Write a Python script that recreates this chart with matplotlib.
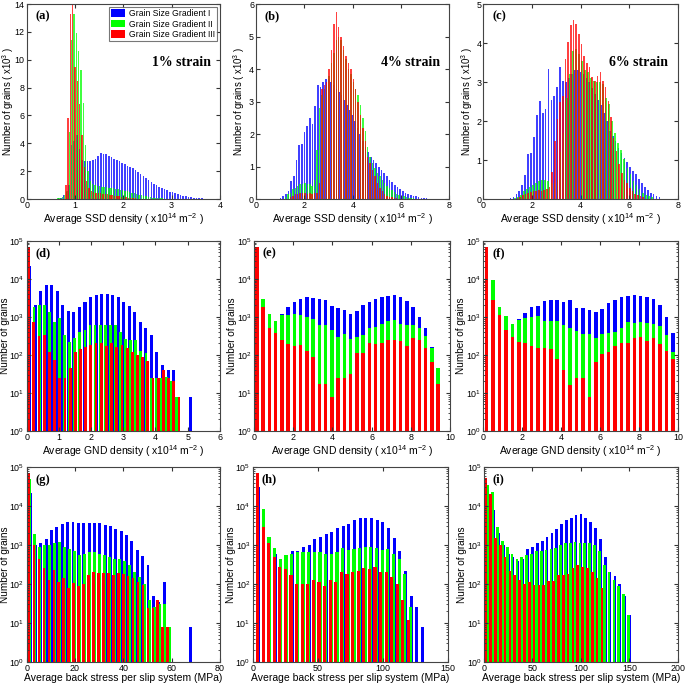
import numpy as np
import matplotlib
matplotlib.use('Agg')
import matplotlib.pyplot as plt
from matplotlib.patches import Patch

plt.rcParams['font.family'] = ['Liberation Sans', 'DejaVu Sans']
plt.rcParams['mathtext.fontset'] = 'custom'
plt.rcParams['mathtext.rm'] = 'Liberation Sans'
plt.rcParams['mathtext.it'] = 'Liberation Sans:italic'
plt.rcParams['mathtext.bf'] = 'Liberation Sans:bold'

BLUE, GREEN, RED = '#0000ff', '#00ff00', '#ff0000'
series_names = ['Grain Size Gradient I', 'Grain Size Gradient II', 'Grain Size Gradient III']

# ---- data: (first bin centre, bin width) and counts per series ----
# (a) SSD density, 1% strain (counts in 1e3)
a_blue_bins = (0.60, 0.055)
a_blue = [0.02, 0.05, 0.1, 0.3, 0.5, 1.0, 3.9, 4.2, 4.6, 3.6, 2.8, 2.7, 2.7, 2.7, 2.8, 2.9, 3.1, 3.3, 3.2, 3.2,
          3.1, 3.0, 2.9, 2.8, 2.7, 2.6, 2.5, 2.4, 2.3, 2.2, 2.1, 1.95, 1.8, 1.65, 1.5, 1.35, 1.2, 1.1, 1.0, 0.9,
          0.8, 0.7, 0.62, 0.54, 0.47, 0.4, 0.34, 0.28, 0.24, 0.2, 0.16, 0.13, 0.1, 0.08, 0.06, 0.04, 0.03, 0.02]
a_green_bins = (0.50, 0.048)
a_green = [0.01, 0.02, 0.03, 0.05, 0.08, 0.12, 0.3, 0.6, 4.8, 11.4, 13.3, 11.9, 10.6, 9.3, 6.9, 3.9, 2.0, 1.3,
           1.1, 1.0, 0.95, 0.92, 0.9, 0.88, 0.85, 0.82, 0.8, 0.78, 0.75, 0.72, 0.68, 0.64, 0.6, 0.55, 0.5, 0.45,
           0.4, 0.35, 0.3, 0.26, 0.22, 0.19, 0.16, 0.13, 0.1, 0.08, 0.06, 0.05, 0.04, 0.03, 0.02, 0.02, 0.01, 0.01]
a_red_bins = (0.81, 0.048)
a_red = [1.0, 5.8, 13.3, 14.0, 9.5, 8.5, 6.8, 4.6, 2.3, 1.3, 0.8, 0.6, 0.5, 0.45, 0.42, 0.4, 0.38, 0.35, 0.33,
         0.3, 0.28, 0.25, 0.22, 0.2, 0.17, 0.15, 0.12, 0.1, 0.08, 0.06, 0.04, 0.03, 0.02]

# (b) SSD density, 4% strain
b_blue_bins = (0.90, 0.11)
b_blue = [0.01, 0.03, 0.08, 0.15, 0.25, 0.55, 0.7, 1.2, 1.65, 1.7, 2.05, 2.25, 2.5, 2.3, 2.85, 3.5, 3.45, 3.6,
          3.7, 3.7, 3.6, 3.5, 3.4, 3.3, 3.2, 3.05, 2.9, 2.75, 2.6, 2.4, 2.2, 2.0, 1.8, 1.6, 1.45, 1.3, 1.2, 1.1,
          1.0, 0.9, 0.8, 0.7, 0.6, 0.52, 0.44, 0.37, 0.3, 0.25, 0.2, 0.16, 0.12, 0.1, 0.08, 0.06, 0.04, 0.03,
          0.02, 0.01, 0.01]
b_green_bins = (1.22, 0.10)
b_green = [0.05, 0.15, 0.2, 0.3, 0.35, 0.4, 0.45, 0.45, 0.5, 0.45, 0.45, 0.4, 0.6, 1.5, 2.8, 3.2, 3.4, 3.5, 3.8,
           4.2, 4.5, 4.9, 5.0, 4.9, 4.6, 4.3, 4.0, 3.85, 3.6, 3.4, 3.2, 2.9, 2.5, 2.1, 1.6, 1.3, 1.1, 0.95, 0.8,
           0.7, 0.6, 0.5, 0.4, 0.33, 0.27, 0.22, 0.17, 0.13, 0.1, 0.08, 0.06, 0.04, 0.03, 0.02, 0.01]
b_red_bins = (1.42, 0.10)
b_red = [0.05, 0.1, 0.15, 0.15, 0.2, 0.2, 0.2, 0.15, 0.2, 0.15, 0.2, 0.2, 0.5, 3.4, 3.5, 3.6, 4.0, 4.6, 5.4, 5.75,
         5.3, 5.0, 4.7, 4.4, 4.2, 4.0, 3.7, 3.4, 3.0, 2.6, 2.2, 1.8, 1.3, 1.1, 0.9, 0.7, 0.5, 0.35, 0.25, 0.15,
         0.1, 0.07, 0.05, 0.03, 0.02, 0.01]

# (c) SSD density, 6% strain
c_blue_bins = (1.12, 0.12)
c_blue = [0.02, 0.06, 0.12, 0.2, 0.37, 0.61, 1.15, 1.18, 1.58, 2.15, 2.52, 2.2, 2.3, 3.34, 2.55, 2.65, 2.88, 3.38,
          3.04, 3.0, 3.1, 3.2, 3.3, 3.3, 3.25, 3.2, 3.1, 3.0, 2.85, 2.7, 2.55, 2.4, 2.2, 2.0, 1.75, 1.62, 1.48,
          1.32, 1.19, 1.05, 0.95, 0.82, 0.72, 0.63, 0.52, 0.41, 0.3, 0.22, 0.16, 0.12, 0.09, 0.05]
c_green_bins = (1.30, 0.125)
c_green = [0.02, 0.05, 0.1, 0.2, 0.25, 0.3, 0.35, 0.4, 0.45, 0.5, 0.48, 0.45, 0.42, 0.4, 0.5, 1.2, 1.7, 2.6, 3.2,
           3.8, 3.86, 3.73, 3.55, 3.3, 3.25, 3.1, 3.04, 3.0, 3.0, 2.95, 2.6, 2.43, 2.0, 1.7, 1.45, 1.25, 1.02, 0.8,
           0.63, 0.45, 0.35, 0.25, 0.16, 0.11, 0.07, 0.04]
c_red_bins = (1.40, 0.11)
c_red = [0.03, 0.06, 0.1, 0.12, 0.15, 0.18, 0.2, 0.2, 0.22, 0.2, 0.22, 0.25, 0.3, 0.7, 1.5, 2.05, 2.5, 2.65, 3.6,
         4.03, 4.46, 4.6, 4.5, 4.24, 3.98, 3.68, 3.5, 3.38, 3.12, 3.03, 3.15, 3.25, 3.03, 2.87, 2.52, 2.1, 1.57,
         1.23, 0.89, 0.67, 0.5, 0.41, 0.28, 0.2, 0.14, 0.1, 0.07, 0.04]

# (d) GND density, 1% strain
d_blue_bins = (0.09, 0.172)
d_blue = [2.2e4, 2000, 4800, 6900, 6900, 4800, 2000, 1400, 1300, 1800, 2500, 3400, 3700, 4100, 4000, 3700, 3400,
          2500, 1900, 1300, 750, 500, 330, 120, 54, 40, 40, 0, 0, 8]
d_green_bins = (0.07, 0.158)
d_green = [4e4, 1800, 2100, 2000, 1300, 750, 950, 330, 220, 270, 400, 450, 600, 620, 620, 620, 620, 620, 400, 260,
           250, 250, 125, 110, 24, 24, 24, 26, 20, 8]
d_red_bins = (0.06, 0.161)
d_red = [7e4, 750, 320, 330, 120, 75, 25, 25, 45, 120, 140, 160, 180, 200, 200, 170, 200, 160, 180, 150, 120, 100,
         90, 70, 24, 24, 40, 24, 20, 8]

# (e) GND density, 4% strain
e_blue_bins = (0.14, 0.319)
e_blue = [5e4, 2500, 1000, 800, 1200, 1800, 2400, 3000, 3300, 3200, 2900, 2700, 1900, 1700, 1500, 1200, 1400,
          2000, 2500, 3000, 3400, 3600, 3700, 3300, 2600, 1800, 1000, 500, 160, 0]
e_green_bins = (0.14, 0.319)
e_green = [5e4, 3000, 1200, 800, 1100, 1150, 1200, 1100, 1000, 900, 600, 600, 450, 300, 350, 260, 300, 330, 500,
           550, 650, 800, 850, 650, 600, 600, 500, 320, 150, 45]
e_red_bins = (0.14, 0.319)
e_red = [7e4, 1800, 520, 370, 240, 190, 170, 180, 130, 90, 17, 17, 8, 25, 25, 32, 115, 110, 210, 190, 200, 250,
         250, 230, 170, 280, 240, 155, 65, 17]

# (f) GND density, 6% strain
f_blue_bins = (0.17, 0.33)
f_blue = [3e4, 5000, 1500, 900, 600, 900, 1250, 1800, 1900, 2600, 2700, 2800, 2500, 2700, 1700, 1700, 1500, 1300,
          1600, 2300, 2800, 3300, 3600, 3800, 3600, 3300, 2900, 2000, 1000, 380]
f_green_bins = (0.17, 0.33)
f_green = [5e4, 9500, 1800, 1050, 650, 850, 950, 1000, 1050, 800, 780, 780, 600, 500, 420, 350, 350, 270, 350, 380,
           400, 500, 750, 700, 750, 700, 650, 560, 330, 120]
f_red_bins = (0.17, 0.33)
f_red = [7e4, 2700, 1100, 450, 290, 220, 210, 175, 155, 155, 140, 80, 40, 16, 24, 24, 8, 65, 105, 120, 175, 210,
         200, 280, 290, 230, 270, 190, 130, 80]

# (g) back stress, 1% strain
g_blue_bins = (1.4, 2.22)
g_blue = [2.1e4, 1000, 1100, 1400, 2400, 2900, 3400, 4000, 3800, 3700, 3700, 3700, 3700, 3600, 3300, 3000, 2600,
          2300, 1800, 1250, 760, 530, 310, 50, 35, 110, 0, 0, 0, 0, 8]
g_green_bins = (1.2, 2.07)
g_green = [5e4, 1900, 900, 1000, 1000, 1100, 1200, 900, 800, 700, 550, 600, 650, 650, 600, 550, 500, 450, 450, 400,
           300, 200, 150, 100, 40, 25, 30, 30, 8]
g_red_bins = (1.0, 2.05)
g_red = [7e4, 1000, 450, 260, 130, 230, 110, 140, 80, 105, 90, 100, 170, 200, 190, 190, 190, 170, 190, 185, 160,
         140, 115, 95, 24, 24, 40, 8, 8]

# (h) back stress, 4% strain
h_blue_bins = (4.2, 4.35)
h_blue = [3e4, 2500, 1200, 600, 400, 500, 700, 700, 900, 1000, 1400, 1600, 1900, 2200, 2700, 3000, 3500, 4300, 4800,
          4900, 4800, 4400, 3800, 2700, 1500, 700, 220, 50, 25, 8]
h_green_bins = (3.8, 4.35)
h_green = [5e4, 8500, 1600, 850, 450, 550, 600, 650, 650, 650, 650, 650, 600, 600, 650, 850, 750, 800, 850, 900, 900,
           850, 750, 800, 600, 450, 180, 25]
h_red_bins = (3.6, 4.3)
h_red = [7e4, 2900, 1100, 500, 280, 240, 170, 100, 100, 100, 130, 110, 90, 130, 110, 200, 180, 200, 220, 250, 240,
         280, 200, 200, 150, 100, 40, 12]

# (i) back stress, 6% strain
i_blue_bins = (5.0, 5.0)
i_blue = [2e4, 8000, 2000, 1000, 600, 500, 400, 430, 800, 900, 1100, 1300, 1600, 2000, 2600, 3500, 4500, 5000, 6000,
          6200, 5000, 4000, 2800, 1400, 500, 200, 160, 100, 50, 16]
i_green_bins = (4.0, 5.0)
i_green = [3.5e4, 2.3e4, 2900, 1300, 900, 600, 450, 500, 550, 600, 700, 700, 750, 800, 850, 1000, 1100, 1150, 1200,
           1150, 1150, 1100, 1000, 700, 300, 200, 130, 90, 55, 16]
i_red_bins = (1.7, 5.0)
i_red = [5.3e4, 2e4, 1500, 1000, 500, 220, 170, 130, 100, 110, 95, 95, 95, 120, 120, 170, 170, 180, 250, 300, 280,
         250, 200, 140, 80]

panels = [
    ('a', [(a_blue_bins, a_blue), (a_green_bins, a_green), (a_red_bins, a_red)]),
    ('b', [(b_blue_bins, b_blue), (b_green_bins, b_green), (b_red_bins, b_red)]),
    ('c', [(c_blue_bins, c_blue), (c_green_bins, c_green), (c_red_bins, c_red)]),
    ('d', [(d_blue_bins, d_blue), (d_green_bins, d_green), (d_red_bins, d_red)]),
    ('e', [(e_blue_bins, e_blue), (e_green_bins, e_green), (e_red_bins, e_red)]),
    ('f', [(f_blue_bins, f_blue), (f_green_bins, f_green), (f_red_bins, f_red)]),
    ('g', [(g_blue_bins, g_blue), (g_green_bins, g_green), (g_red_bins, g_red)]),
    ('h', [(h_blue_bins, h_blue), (h_green_bins, h_green), (h_red_bins, h_red)]),
    ('i', [(i_blue_bins, i_blue), (i_green_bins, i_green), (i_red_bins, i_red)]),
]

# axes rectangles in figure fraction, and y-label centre (axes fraction)
rects = {
    'a': [0.039, 0.709, 0.282, 0.285], 'b': [0.374, 0.709, 0.282, 0.285], 'c': [0.7056, 0.709, 0.284, 0.285],
    'd': [0.039, 0.370, 0.282, 0.278], 'e': [0.371, 0.370, 0.286, 0.278], 'f': [0.7056, 0.370, 0.284, 0.278],
    'g': [0.039, 0.0322, 0.282, 0.285], 'h': [0.369, 0.0322, 0.285, 0.285], 'i': [0.7066, 0.0322, 0.283, 0.285],
}
ylab_x = {'a': -0.098, 'b': -0.088, 'c': -0.085, 'd': -0.112, 'e': -0.115, 'f': -0.115,
          'g': -0.112, 'h': -0.113, 'i': -0.115}
xlims = {'a': 4, 'b': 8, 'c': 8, 'd': 6, 'e': 10, 'f': 10, 'g': 80, 'h': 150, 'i': 200}
xsteps = {'a': 1, 'b': 2, 'c': 2, 'd': 1, 'e': 2, 'f': 2, 'g': 20, 'h': 50, 'i': 50}
ylims = {'a': (14, 2), 'b': (6, 1), 'c': (5, 1)}
strain = {'a': '1% strain', 'b': '4% strain', 'c': '6% strain'}

ssd_label = 'Average SSD density ( x10$^{14}$ m$^{-2}$ )'
gnd_label = 'Average GND density ( x10$^{14}$ m$^{-2}$ )'
bs_label = 'Average back stress per slip system (MPa)'

fig = plt.figure(figsize=(6.85, 6.84), dpi=100)
colors = [BLUE, GREEN, RED]

for key, ser in panels:
    ax = fig.add_axes(rects[key])
    log = key in 'defghi'
    if log:
        ax.set_yscale('log')
    for (bins, counts), col in zip(ser, colors):
        x0, dx = bins
        cnt = np.array(counts, dtype=float)
        x = x0 + dx * np.arange(len(cnt))
        if log:
            cnt = np.where(cnt > 0, cnt, np.nan)
            ax.bar(x, cnt, width=0.55 * dx, color=col, edgecolor='none', bottom=0)
        else:
            ax.bar(x, cnt, width=0.6 * dx, color=col, edgecolor='none', alpha=0.75)
    ax.set_xlim(0, xlims[key])
    ax.set_xticks(np.arange(0, xlims[key] + 1e-9, xsteps[key]))
    if log:
        ax.set_ylim(1, 1e5)
        ax.set_yticks([1, 10, 100, 1e3, 1e4, 1e5])
        ax.set_ylabel('Number of grains', fontsize=7.2)
    else:
        top, st = ylims[key]
        ax.set_ylim(0, top)
        ax.set_yticks(np.arange(0, top + 1e-9, st))
        ax.set_ylabel('Number of grains ( x10$^{3}$ )', fontsize=6.9)
        ax.text(0.80, 0.70, strain[key], transform=ax.transAxes, ha='center', va='center',
                family='Liberation Serif', fontweight='bold', fontsize=10)
    ax.yaxis.label.set_va('center')
    ax.yaxis.set_label_coords(ylab_x[key], 0.5)
    if key in 'abc':
        ax.set_xlabel(ssd_label, fontsize=7.5, labelpad=1)
    elif key in 'def':
        ax.set_xlabel(gnd_label, fontsize=7.5, labelpad=1)
    else:
        ax.set_xlabel(bs_label, fontsize=7.5, labelpad=0)
    ax.tick_params(which='both', direction='in', top=True, right=True, labelsize=6.4, pad=1.5,
                   color='#333333')
    ax.tick_params(which='major', length=3)
    ax.tick_params(which='minor', length=1.5)
    for sp in ax.spines.values():
        sp.set_color('#444444')
        sp.set_linewidth(0.8)
    ax.text(0.045, 0.935, '(%s)' % key, transform=ax.transAxes, ha='left', va='center',
            family='Liberation Serif', fontweight='bold', fontsize=9)
    if key == 'a':
        handles = [Patch(facecolor=c, edgecolor='none') for c in colors]
        leg = ax.legend(handles, series_names, loc='upper right', fontsize=6.2, frameon=True,
                        fancybox=False, borderaxespad=0.3, handlelength=1.6, handleheight=1.0,
                        labelspacing=0.15, borderpad=0.3, handletextpad=0.4)
        leg.get_frame().set_edgecolor('#555555')
        leg.get_frame().set_linewidth(0.8)

fig.savefig('out.png', dpi=100)
